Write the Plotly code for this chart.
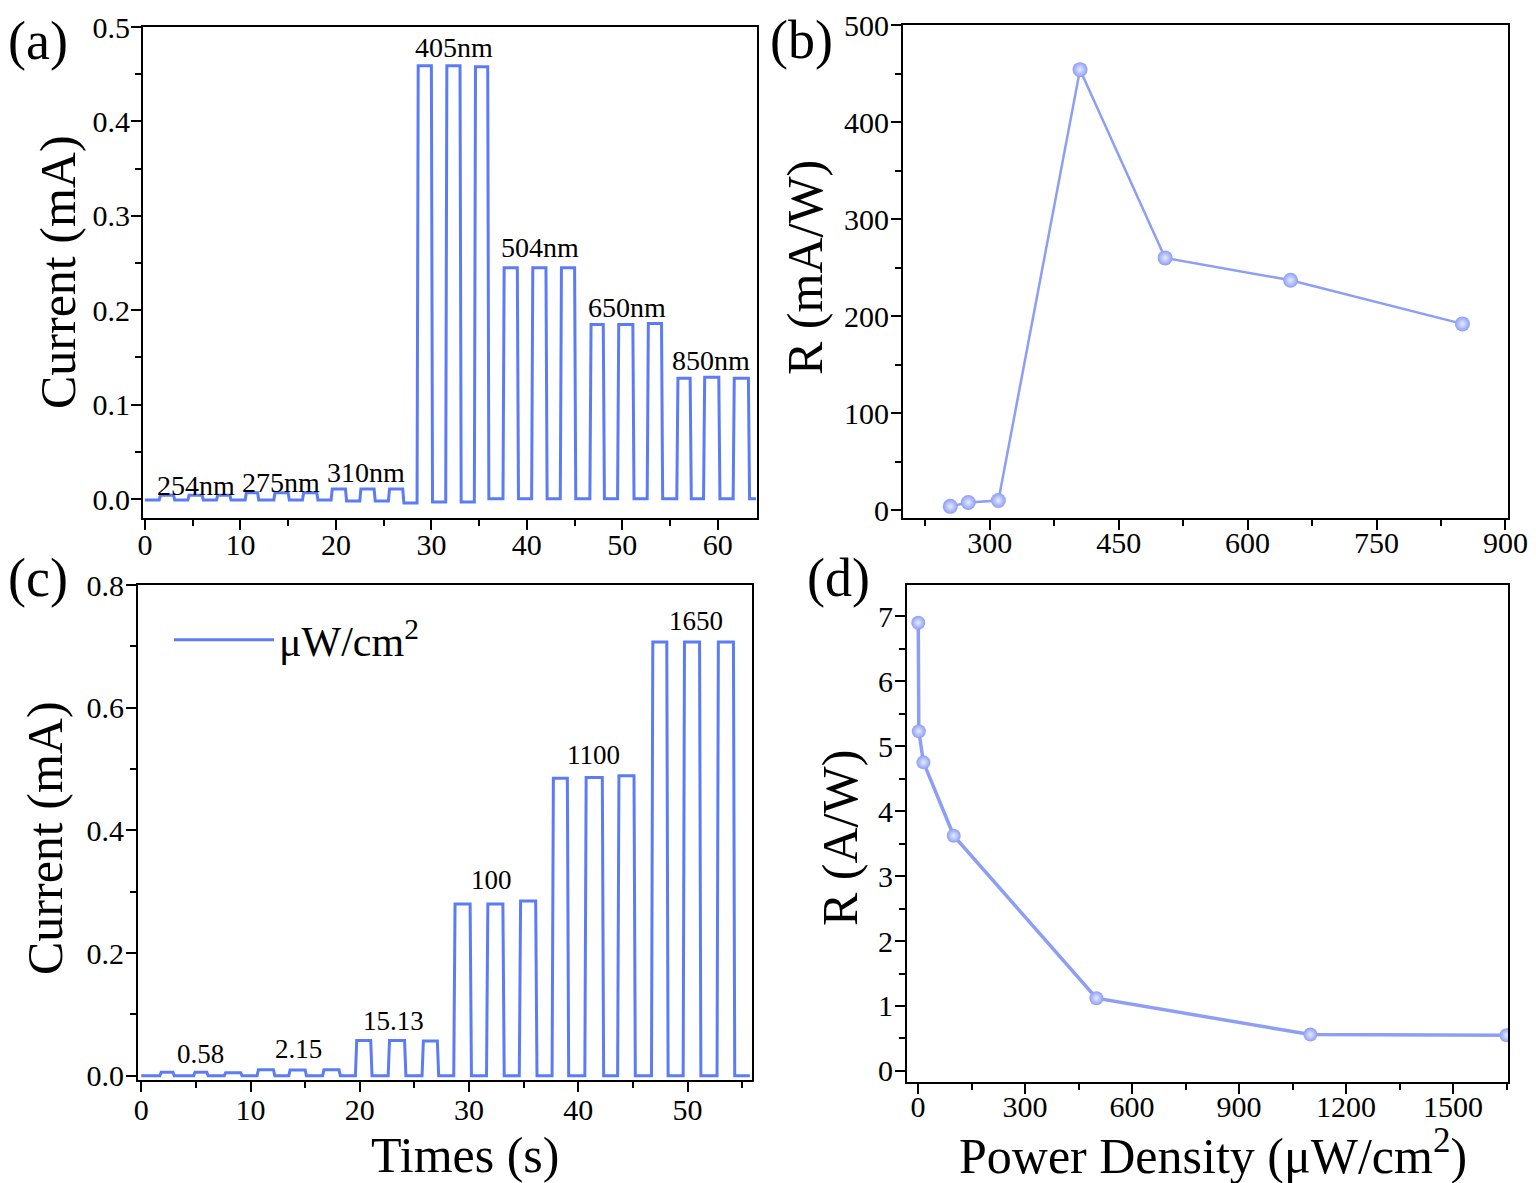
import plotly.graph_objects as go

# ---------------- data ----------------
# (a) current vs time for different wavelengths
a_wavelengths = ["254nm", "275nm", "310nm", "405nm", "504nm", "650nm", "850nm"]
a_rise_times = [1.5, 4.5, 7.5, 10.5, 13.5, 16.5, 19.5, 22.5, 25.5,
                28.5, 31.5, 34.5, 37.5, 40.5, 43.5, 46.6, 49.5, 52.6,
                55.7, 58.5, 61.6]
a_fall_times = [3.0, 6.0, 8.9, 11.8, 15.0, 18.0, 21.0, 24.0, 27.0,
                30.0, 33.0, 35.9, 39.0, 42.0, 45.0, 48.0, 51.1, 54.1,
                57.1, 60.1, 63.2]
a_on_levels = [0.004, 0.004, 0.004, 0.0068, 0.0068, 0.0068, 0.0108, 0.0108, 0.0108,
               0.459, 0.459, 0.458, 0.245, 0.245, 0.245, 0.185, 0.185, 0.186,
               0.128, 0.129, 0.128]
a_off_levels = [-0.001, -0.001, -0.001, -0.001, -0.001, -0.001, -0.002, -0.002, -0.004,
                -0.003, -0.003, 0.0005, 0.0005, 0.0005, 0.0005, 0.0005, 0.0005, 0.0005,
                0.0005, 0.0005, 0.0005]
a_start_level = -0.001
a_end_time = 64.0
a_label_x = [5.4, 14.2, 23.2, 32.4, 41.4, 50.5, 59.3]
a_label_y = [0.0148, 0.018, 0.0286, 0.478, 0.266, 0.203, 0.147]

# (b) responsivity vs wavelength
b_wavelength = [254, 275, 310, 405, 504, 650, 850]
b_resp = [4, 8, 10, 454, 260, 237, 192]

# (c) current vs time for different power densities
c_powers = ["0.58", "2.15", "15.13", "100", "1100", "1650"]
c_rise_times = [1.7, 4.8, 7.6, 10.6, 13.5, 16.6, 19.6, 22.6, 25.7,
                28.6, 31.6, 34.6, 37.6, 40.6, 43.6, 46.7, 49.6, 52.7]
c_fall_times = [2.9, 6.0, 9.1, 12.1, 15.0, 18.1, 21.0, 24.1, 27.1,
                30.1, 33.1, 36.1, 39.0, 42.2, 45.1, 48.1, 51.1, 54.2]
c_on_levels = [0.0055, 0.0055, 0.005, 0.0098, 0.0095, 0.0098, 0.0575, 0.0575, 0.0565,
               0.280, 0.280, 0.285, 0.485, 0.486, 0.489, 0.707, 0.707, 0.707]
c_off_level = 0.0
c_end_time = 55.7
c_label_x = [5.4, 14.4, 23.1, 32.1, 41.4, 50.8]
c_label_y = [0.0358, 0.044, 0.0896, 0.319, 0.523, 0.741]

# (d) responsivity vs power density
d_power = [0.58, 2.15, 15.13, 100, 500, 1100, 1650]
d_resp = [6.9, 5.23, 4.75, 3.62, 1.12, 0.56, 0.55]

# ---------------- helpers ----------------
EDGE = 0.12


def square_wave(rises, falls, ons, offs, start_level, end_time):
    t, y = [0.0], [start_level]
    prev = start_level
    for i in range(len(rises)):
        t += [rises[i], rises[i] + EDGE, falls[i], falls[i] + EDGE]
        y += [prev, ons[i], ons[i], offs[i]]
        prev = offs[i]
    t.append(end_time)
    y.append(prev)
    return t, y


FONT = "Liberation Serif"
LINE_BLUE = "#5b7cf6"
PT_BLUE = "#8c9ef5"

fig = go.Figure()

ta, ya = square_wave(a_rise_times, a_fall_times, a_on_levels,
                     a_off_levels, a_start_level, a_end_time)
fig.add_trace(go.Scatter(x=ta, y=ya, mode="lines", xaxis="x", yaxis="y",
                         line=dict(color=LINE_BLUE, width=3), showlegend=False))

fig.add_trace(go.Scatter(x=b_wavelength, y=b_resp, mode="lines+markers",
                         xaxis="x2", yaxis="y2", showlegend=False,
                         line=dict(color=PT_BLUE, width=2.5),
                         marker=dict(size=15, color=PT_BLUE,
                                     gradient=dict(type="radial", color="#e6ebff"))))

tc, yc = square_wave(c_rise_times, c_fall_times, c_on_levels,
                     [c_off_level] * len(c_rise_times), c_off_level, c_end_time)
fig.add_trace(go.Scatter(x=tc, y=yc, mode="lines", xaxis="x3", yaxis="y3",
                         name="\u03bcW/cm<sup>2</sup>",
                         line=dict(color=LINE_BLUE, width=3), showlegend=True))

fig.add_trace(go.Scatter(x=d_power, y=d_resp, mode="lines+markers",
                         xaxis="x4", yaxis="y4", showlegend=False,
                         line=dict(color=PT_BLUE, width=3.5),
                         marker=dict(size=14, color=PT_BLUE,
                                     gradient=dict(type="radial", color="#e6ebff"))))


def ax(domain, rng, dtick, mdtick, anchor, standoff, fmt=None):
    d = dict(domain=domain, range=rng, dtick=dtick, tick0=0, anchor=anchor,
             showline=True, linecolor="black", linewidth=2, mirror=True,
             ticks="outside", ticklen=10, tickwidth=2, tickcolor="black",
             showgrid=False, zeroline=False, automargin=False,
             ticklabelstandoff=standoff,
             tickfont=dict(family=FONT, size=30, color="black"),
             minor=dict(ticks="outside", ticklen=6, tickwidth=2, tickcolor="black",
                        dtick=mdtick, tick0=0, showgrid=False))
    if fmt:
        d["tickformat"] = fmt
    return d


W, H = 1536, 1183
OFF = 8  # page body margin offset


def px(xp):
    return (xp - OFF) / W


def py(yp):
    return 1 - (yp - OFF) / H


layout = dict(
    width=W, height=H, margin=dict(l=0, r=0, t=0, b=0, autoexpand=False),
    paper_bgcolor="white", plot_bgcolor="white",
    font=dict(family=FONT, color="black"),
    xaxis=ax([px(143), px(757)], [-0.2, 64.1], 10, 5, "y", -11),
    yaxis=ax([py(518), py(27)], [-0.02, 0.5], 0.1, 0.05, "x", -5, ".1f"),
    xaxis2=ax([px(903), px(1508)], [199, 903], 150, 75, "y2", -13),
    yaxis2=ax([py(518), py(25)], [-8, 500], 100, 50, "x2", -4),
    xaxis3=ax([px(138), px(752)], [-0.3, 55.9], 10, 5, "y3", -8),
    yaxis3=ax([py(1080), py(585)], [-0.007, 0.8], 0.2, 0.1, "x3", -4, ".1f"),
    xaxis4=ax([px(907), px(1508)], [-31, 1654], 300, 150, "y4", -13),
    yaxis4=ax([py(1082), py(585)], [-0.17, 7.48], 1, 0.5, "x4", -4),
    legend=dict(x=px(169), y=py(640), xanchor="left", yanchor="middle",
                font=dict(family=FONT, size=42, color="black"),
                bgcolor="rgba(0,0,0,0)", itemwidth=100),
)
fig.update_layout(**layout)

ann = []
for lab, x, y in zip(a_wavelengths, a_label_x, a_label_y):
    ann.append(dict(text=lab, x=x, y=y, xref="x", yref="y", showarrow=False,
                    xanchor="center", yanchor="middle",
                    font=dict(family=FONT, size=28, color="black")))
for lab, x, y in zip(c_powers, c_label_x, c_label_y):
    ann.append(dict(text=lab, x=x, y=y, xref="x3", yref="y3", showarrow=False,
                    xanchor="center", yanchor="middle",
                    font=dict(family=FONT, size=27, color="black")))

big = dict(family=FONT, size=54, color="black")
for txt, xp, yp in [("(a)", 38, 41), ("(b)", 801, 40), ("(c)", 38, 578), ("(d)", 838, 578)]:
    ann.append(dict(text=txt, x=px(xp), y=py(yp), xref="paper", yref="paper",
                    xanchor="center", yanchor="middle", showarrow=False, font=big))

title_font = dict(family=FONT, size=50, color="black")
for txt, xp, yp in [("Current (mA)", 58, 272), ("R (mA/W)", 805, 268),
                    ("Current (mA)", 45, 838), ("R (A/W)", 840, 838)]:
    ann.append(dict(text=txt, x=px(xp), y=py(yp), xref="paper", yref="paper",
                    xanchor="center", yanchor="middle",
                    showarrow=False, textangle=-90, font=title_font))

ann.append(dict(text="Times (s)", x=px(465), y=py(1155), xref="paper", yref="paper",
                xanchor="center", yanchor="middle", showarrow=False, font=title_font))
ann.append(dict(text="Power Density (\u03bcW/cm<sup>2</sup>)", x=px(1213), y=py(1152),
                xref="paper", yref="paper", xanchor="center", yanchor="middle",
                showarrow=False, font=title_font))
fig.update_layout(annotations=ann)

fig.write_html("out.html")
